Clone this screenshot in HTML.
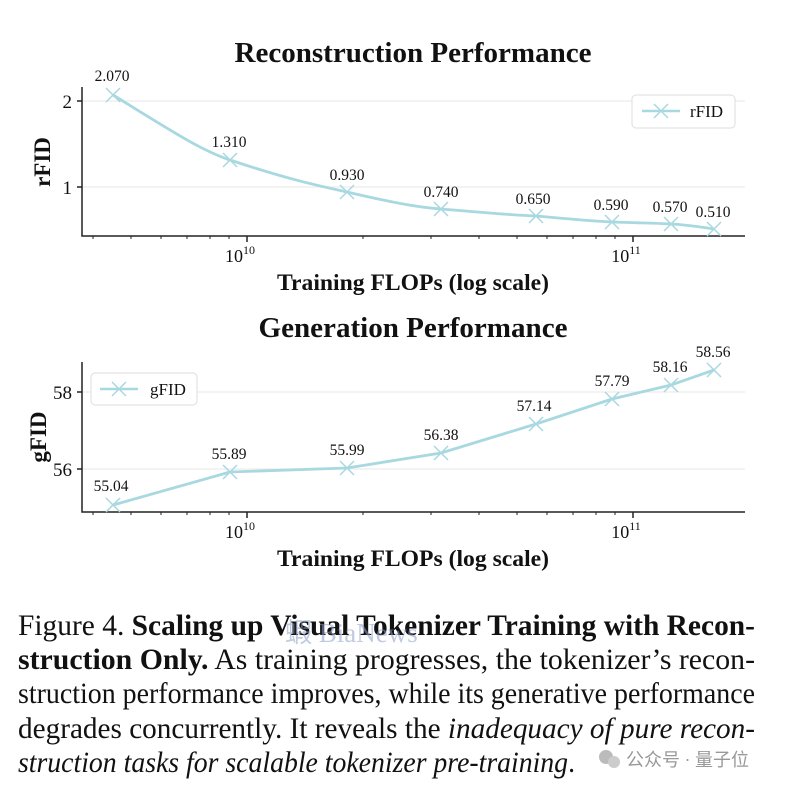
<!DOCTYPE html>
<html><head><meta charset="utf-8"><style>
body{margin:0;background:#fff;width:810px;height:790px;overflow:hidden}
svg{display:block}
text{font-family:"Liberation Serif",serif;fill:#111}
</style></head><body>
<svg width="810" height="790" viewBox="0 0 810 790">
<!-- Chart 1 -->
<text x="413" y="62" font-size="28" font-weight="bold" text-anchor="middle" textLength="357" lengthAdjust="spacingAndGlyphs">Reconstruction Performance</text>
<line x1="82" y1="101" x2="745" y2="101" stroke="#ececec" stroke-width="1.2"/>
<line x1="82" y1="187" x2="745" y2="187" stroke="#ececec" stroke-width="1.2"/>
<g stroke="#222" stroke-width="1.5" fill="none">
<path d="M82 87 V236 H745"/>
<line x1="77" y1="101" x2="82" y2="101"/><line x1="77" y1="187" x2="82" y2="187"/>
<line x1="247" y1="236" x2="247" y2="242"/><line x1="633" y1="236" x2="633" y2="242"/>
</g>
<g stroke="#222" stroke-width="1">
<path d="M93 236v3M131 236v3M161 236v3M187 236v3M210 236v3M229 236v3M363 236v3M431 236v3M479 236v3M517 236v3M547 236v3M573 236v3M596 236v3M615 236v3"/>
</g>
<text x="72" y="108" font-size="19" text-anchor="end">2</text>
<text x="72" y="194" font-size="19" text-anchor="end">1</text>
<text x="240" y="262" font-size="18" text-anchor="middle">10<tspan font-size="12" dy="-8">10</tspan></text>
<text x="626" y="262" font-size="18" text-anchor="middle">10<tspan font-size="12" dy="-8">11</tspan></text>
<text x="413" y="290" font-size="23" font-weight="bold" text-anchor="middle" textLength="272" lengthAdjust="spacingAndGlyphs">Training FLOPs (log scale)</text>
<text transform="translate(50,162) rotate(-90)" font-size="23" font-weight="bold" text-anchor="middle">rFID</text>
<path d="M113 95 C170 130,200 150,230 160 C290 180,320 186,347 192 C390 202,415 207,441 209 C490 213,510 215,536 216 C570 219,590 221,612 222 C640 223,655 223,671 224 C690 225,700 227,714 229" fill="none" stroke="#a8d8e0" stroke-width="2.8"/>
<g stroke="#a8d8e0" stroke-width="1.5">
<path d="M106 88l14 14M120 88l-14 14M223 153l14 14M237 153l-14 14M340 185l14 14M354 185l-14 14M434 202l14 14M448 202l-14 14M529 209l14 14M543 209l-14 14M605 215l14 14M619 215l-14 14M664 217l14 14M678 217l-14 14M707 222l14 14M721 222l-14 14"/>
</g>
<g font-size="15.5" text-anchor="middle">
<text x="112" y="81">2.070</text><text x="229" y="147">1.310</text><text x="347" y="180">0.930</text><text x="441" y="197">0.740</text><text x="533" y="204">0.650</text><text x="611" y="210">0.590</text><text x="670" y="212">0.570</text><text x="713" y="217">0.510</text>
</g>
<rect x="632" y="95" width="103" height="33" rx="4" fill="#fff" stroke="#ddd"/>
<line x1="642" y1="111" x2="680" y2="111" stroke="#a8d8e0" stroke-width="2.5"/>
<path d="M654 104l14 14M668 104l-14 14" stroke="#a8d8e0" stroke-width="1.5"/>
<text x="690" y="117" font-size="17">rFID</text>

<!-- Chart 2 -->
<text x="413" y="337" font-size="28" font-weight="bold" text-anchor="middle" textLength="309" lengthAdjust="spacingAndGlyphs">Generation Performance</text>
<line x1="82" y1="392" x2="745" y2="392" stroke="#ececec" stroke-width="1.2"/>
<line x1="82" y1="469" x2="745" y2="469" stroke="#ececec" stroke-width="1.2"/>
<g stroke="#222" stroke-width="1.5" fill="none">
<path d="M82 362 V512 H745"/>
<line x1="77" y1="392" x2="82" y2="392"/><line x1="77" y1="469" x2="82" y2="469"/>
<line x1="247" y1="512" x2="247" y2="518"/><line x1="633" y1="512" x2="633" y2="518"/>
</g>
<g stroke="#222" stroke-width="1">
<path d="M93 512v3M131 512v3M161 512v3M187 512v3M210 512v3M229 512v3M363 512v3M431 512v3M479 512v3M517 512v3M547 512v3M573 512v3M596 512v3M615 512v3"/>
</g>
<text x="72" y="399" font-size="19" text-anchor="end">58</text>
<text x="72" y="476" font-size="19" text-anchor="end">56</text>
<text x="240" y="538" font-size="18" text-anchor="middle">10<tspan font-size="12" dy="-8">10</tspan></text>
<text x="626" y="538" font-size="18" text-anchor="middle">10<tspan font-size="12" dy="-8">11</tspan></text>
<text x="413" y="566" font-size="23" font-weight="bold" text-anchor="middle" textLength="272" lengthAdjust="spacingAndGlyphs">Training FLOPs (log scale)</text>
<text transform="translate(46,437) rotate(-90)" font-size="23" font-weight="bold" text-anchor="middle">gFID</text>
<polyline points="113,505 230,472 347,468 441,453 536,424 612,399 671,385 714,370" fill="none" stroke="#a8d8e0" stroke-width="2.8"/>
<g stroke="#a8d8e0" stroke-width="1.5">
<path d="M106 498l14 14M120 498l-14 14M223 465l14 14M237 465l-14 14M340 461l14 14M354 461l-14 14M434 446l14 14M448 446l-14 14M529 417l14 14M543 417l-14 14M605 392l14 14M619 392l-14 14M664 378l14 14M678 378l-14 14M707 363l14 14M721 363l-14 14"/>
</g>
<g font-size="15.5" text-anchor="middle">
<text x="111" y="491">55.04</text><text x="229" y="459">55.89</text><text x="347" y="455">55.99</text><text x="441" y="440">56.38</text><text x="534" y="411">57.14</text><text x="612" y="386">57.79</text><text x="670" y="372">58.16</text><text x="713" y="357">58.56</text>
</g>
<rect x="91" y="373" width="106" height="32" rx="4" fill="#fff" stroke="#ddd"/>
<line x1="100" y1="389" x2="138" y2="389" stroke="#a8d8e0" stroke-width="2.5"/>
<path d="M112 382l14 14M126 382l-14 14" stroke="#a8d8e0" stroke-width="1.5"/>
<text x="150" y="395" font-size="17">gFID</text>

<!-- Caption -->
<g font-size="30">
<text x="18" y="635" textLength="737" lengthAdjust="spacingAndGlyphs">Figure 4.  <tspan font-weight="bold">Scaling up Visual Tokenizer Training with Recon-</tspan></text>
<text x="18" y="669" textLength="737" lengthAdjust="spacingAndGlyphs"><tspan font-weight="bold">struction Only.</tspan>  As training progresses, the tokenizer’s recon-</text>
<text x="18" y="703" textLength="737" lengthAdjust="spacingAndGlyphs">struction performance improves, while its generative performance</text>
<text x="18" y="738" textLength="737" lengthAdjust="spacingAndGlyphs">degrades concurrently.  It reveals the <tspan font-style="italic">inadequacy of pure recon-</tspan></text>
<text x="18" y="772" textLength="557" lengthAdjust="spacingAndGlyphs" font-style="italic">struction tasks for scalable tokenizer pre-training<tspan font-style="normal">.</tspan></text>
</g>
<text x="285" y="642" font-size="27" opacity="0.55" style="fill:#8fa0c8" font-family="'Liberation Serif','Noto Serif CJK SC',serif">蝦  BiaNews</text>
<circle cx="606" cy="757" r="7" fill="#bbb"/><circle cx="614" cy="762" r="6" fill="#ccc"/>
<text x="626" y="766" font-size="18" style="fill:#999" font-family="'Liberation Sans','Noto Sans CJK SC',sans-serif">公众号 · 量子位</text>
</svg>
</body></html>
